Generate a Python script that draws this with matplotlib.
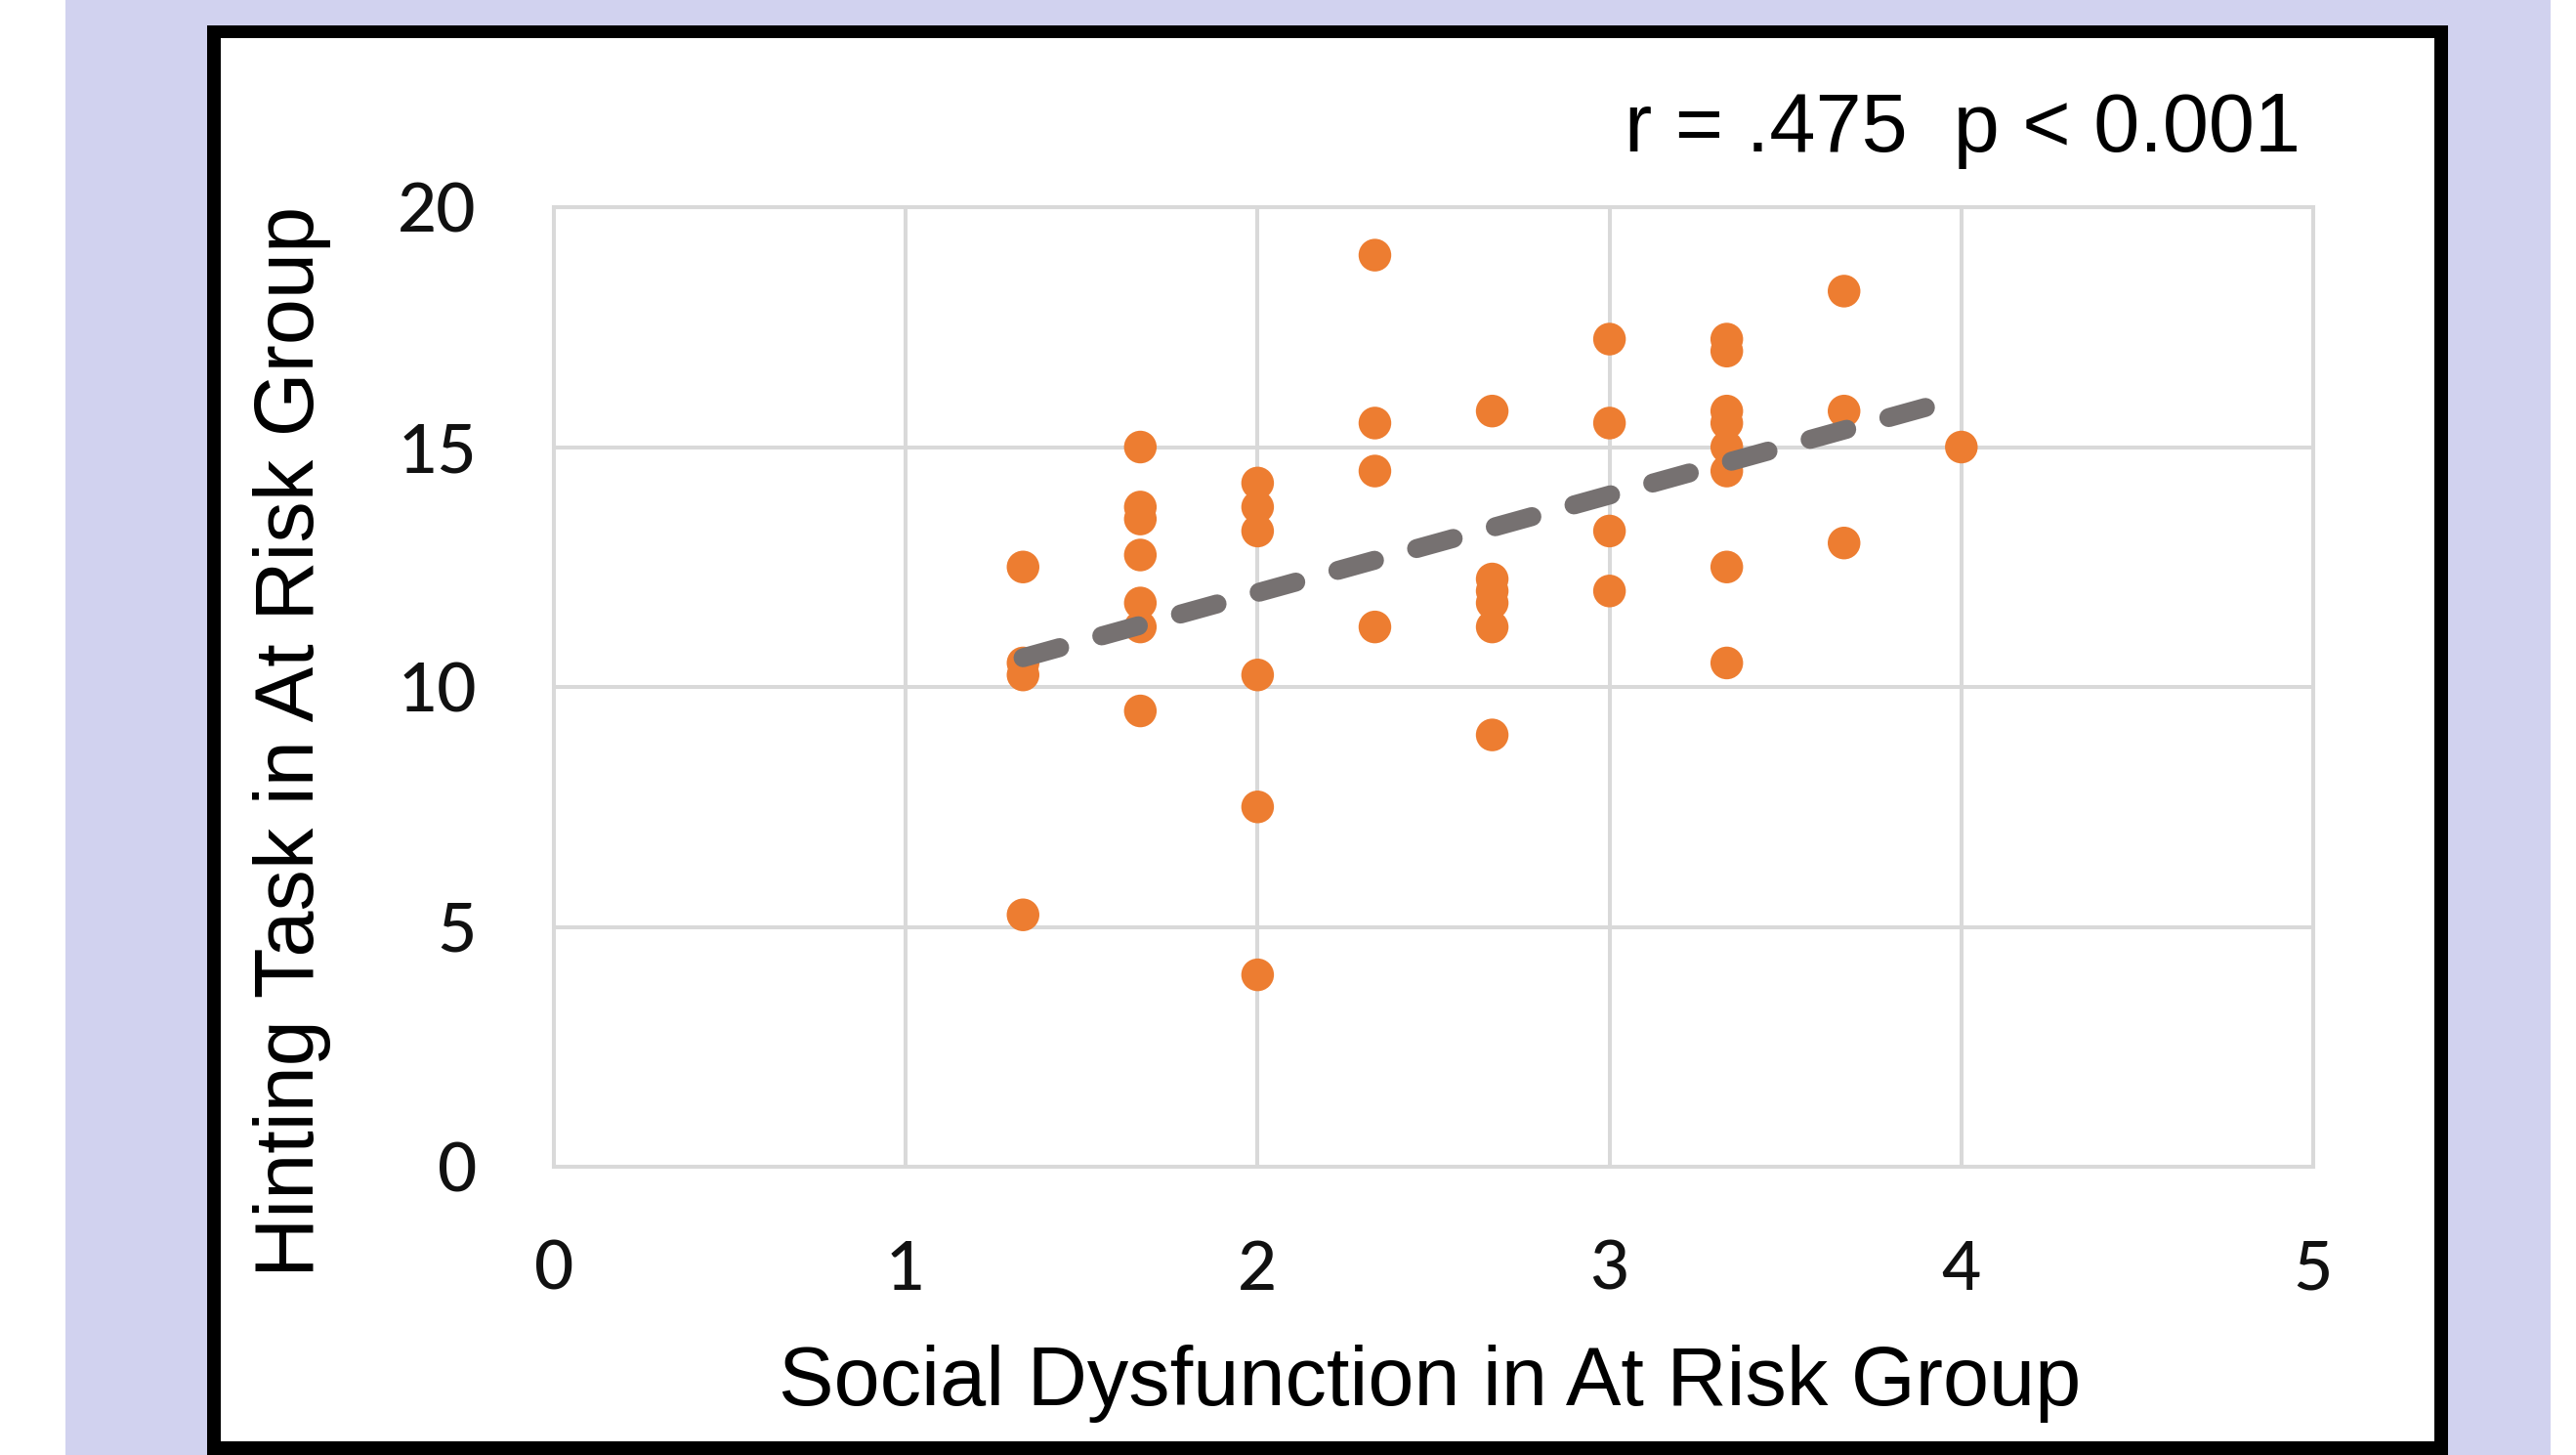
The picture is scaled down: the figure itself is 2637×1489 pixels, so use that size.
import numpy as np
import matplotlib
matplotlib.use("Agg")
import matplotlib.pyplot as plt
from matplotlib.patches import Rectangle

# ---- data ----
x_levels = [4/3, 5/3, 2.0, 7/3, 8/3, 3.0, 10/3, 11/3, 4.0]
y_at_4_3 = [12.5, 10.5, 10.25, 5.25]
y_at_5_3 = [15.0, 13.75, 13.5, 12.75, 11.75, 11.25, 9.5]
y_at_2 = [14.25, 13.75, 13.25, 10.25, 7.5, 4.0]
y_at_7_3 = [19.0, 15.5, 14.5, 11.25]
y_at_8_3 = [15.75, 12.25, 12.0, 11.75, 11.25, 9.0]
y_at_3 = [17.25, 15.5, 13.25, 12.0]
y_at_10_3 = [17.25, 17.0, 15.75, 15.5, 15.0, 14.5, 12.5, 10.5]
y_at_11_3 = [18.25, 15.75, 13.0]
y_at_4 = [15.0]
y_groups = [y_at_4_3, y_at_5_3, y_at_2, y_at_7_3, y_at_8_3, y_at_3,
            y_at_10_3, y_at_11_3, y_at_4]

x_ticks = [0, 1, 2, 3, 4, 5]
y_ticks = [0, 5, 10, 15, 20]
x_label = "Social Dysfunction in At Risk Group"
y_label = "Hinting Task in At Risk Group"
stat_text = "r = .475  p < 0.001"

xs = np.concatenate([[xv] * len(g) for xv, g in zip(x_levels, y_groups)])
ys = np.concatenate([np.array(g, float) for g in y_groups])

W, H = 2637, 1489
fig = plt.figure(figsize=(W / 100, H / 100), dpi=100)
fig.patch.set_facecolor("white")

def fx(px):
    return px / W

def fy(py):
    return 1 - py / H

# lavender background, black frame, white card
fig.patches.append(Rectangle((fx(67), 0), fx(2611) - fx(67), 1,
                             transform=fig.transFigure, facecolor="#d1d2ef",
                             edgecolor="none", zorder=-3))
fig.patches.append(Rectangle((fx(212), -0.02), fx(2506) - fx(212), fy(26) + 0.02,
                             transform=fig.transFigure, facecolor="black",
                             edgecolor="none", zorder=-2))
fig.patches.append(Rectangle((fx(226), fy(1475)), fx(2492) - fx(226), fy(39) - fy(1475),
                             transform=fig.transFigure, facecolor="white",
                             edgecolor="none", zorder=-1))

ax = fig.add_axes([fx(567), fy(1194), fx(2368) - fx(567), fy(212) - fy(1194)])
ax.set_zorder(2)
ax.set_facecolor("none")
ax.set_xlim(0, 5)
ax.set_ylim(0, 20)
ax.set_xticks(x_ticks)
ax.set_yticks(y_ticks)
ax.set_xticklabels([str(t) for t in x_ticks])
ax.set_yticklabels([str(t) for t in y_ticks])

grid_col = "#d9d9d9"
ax.grid(True, color=grid_col, linewidth=2.9, zorder=0)
ax.set_axisbelow(True)
for s in ax.spines.values():
    s.set_color(grid_col)
    s.set_linewidth(2.9)
ax.tick_params(length=0, labelsize=50, colors="black")
ax.tick_params(axis="x", pad=54)
ax.tick_params(axis="y", pad=57)
for lab in ax.get_xticklabels() + ax.get_yticklabels():
    lab.set_fontfamily("Lato")
    lab.set_fontweight("medium")
    lab.set_color("#111111")

ax.scatter(xs, ys, s=580, color="#ED7D31", edgecolors="none", zorder=3)

# linear trend line (least squares) over data range
slope, intercept = np.polyfit(xs, ys, 1)
tx = np.array([xs.min(), xs.max()])
line, = ax.plot(tx, slope * tx + intercept, color="#767171", linewidth=14,
                linestyle=(0, (2.0, 2.3)), dash_capstyle="round", zorder=4)

fig.text(fx(2355), fy(155), stat_text, ha="right", va="baseline",
         fontsize=61, family="Liberation Sans", color="black")
fig.text(fx(1464), fy(1438), x_label, ha="center", va="baseline",
         fontsize=61, family="Liberation Sans", color="black")
fig.text(fx(299), fy(759), y_label, ha="center", va="center", rotation=90,
         fontsize=61, family="Liberation Sans", color="black")

fig.savefig("out.png", dpi=100)
